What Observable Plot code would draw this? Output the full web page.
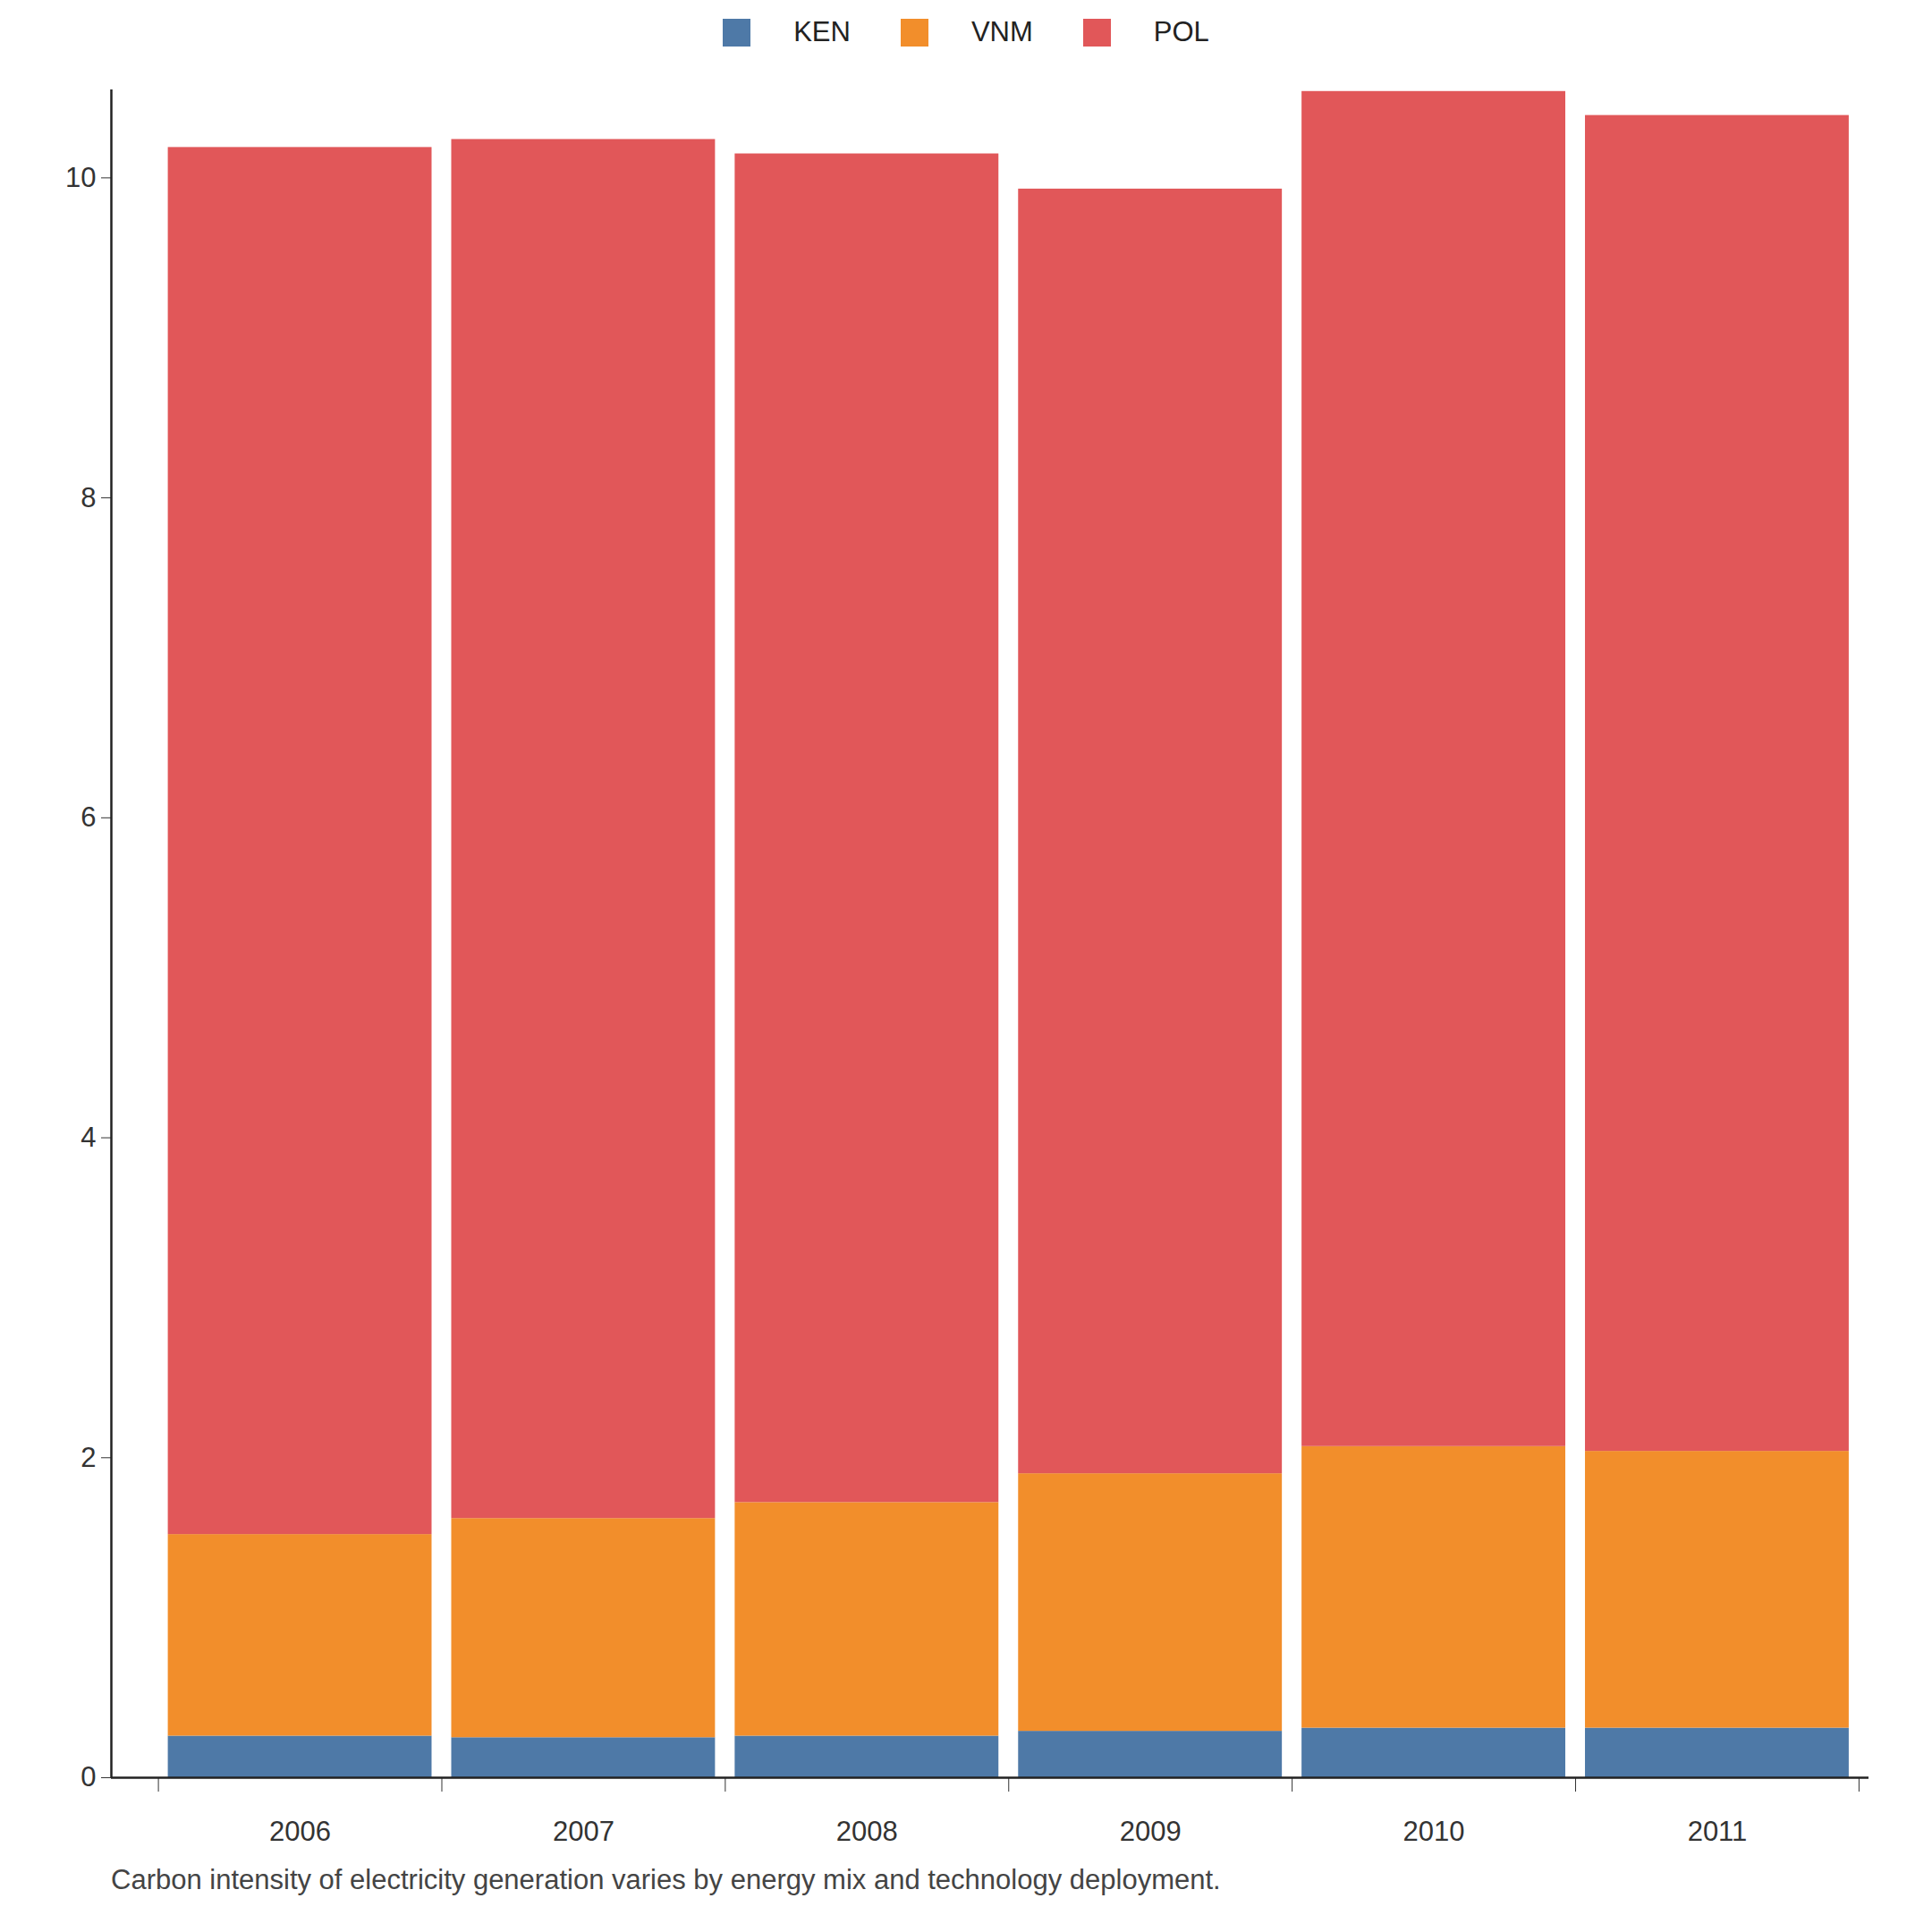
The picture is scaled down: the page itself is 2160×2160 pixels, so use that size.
<!DOCTYPE html>
<html><head>
<script src="https://cdn.jsdelivr.net/npm/d3@7"></script>
<script src="https://cdn.jsdelivr.net/npm/@observablehq/plot@0.6"></script>
<style>
body{margin:0;background:#fff;font-family:"Liberation Sans",Arial,sans-serif;}
#legend{height:72px;display:flex;justify-content:center;align-items:center;gap:0;font-size:31px;color:#222;}
.item{display:flex;align-items:center;margin:0 28px;}
.sw{width:31px;height:31px;margin-right:48px;}
#cap{font-size:31px;color:#444;margin-left:124px;margin-top:2px;}
</style></head><body>
<div id="legend"></div>
<div id="chart"></div>
<div id="cap">Carbon intensity of electricity generation varies by energy mix and technology deployment.</div>
<script>
const years = [2006, 2007, 2008, 2009, 2010, 2011];
const series = ["KEN", "VNM", "POL"];
const colors = ["#4e79a7", "#f28e2b", "#e15759"];
const KEN = [0.26, 0.25, 0.26, 0.29, 0.31, 0.31];
const VNM = [1.26, 1.37, 1.46, 1.61, 1.76, 1.73];
const POL = [8.67, 8.62, 8.43, 8.03, 8.47, 8.35];
const yTicks = [0, 2, 4, 6, 8, 10];
const edges = [2005.5, 2006.5, 2007.5, 2008.5, 2009.5, 2010.5, 2011.5];

const vals = {KEN, VNM, POL};
const data = [];
years.forEach((yr, i) => series.forEach(s => data.push({year: yr, s, v: vals[s][i]})));

const leg = document.getElementById("legend");
series.forEach((s, i) => {
  leg.innerHTML += `<div class="item"><div class="sw" style="background:${colors[i]}"></div>${s}</div>`;
});

const xmin = 2005.334, xmax = 2011.535;
const chart = Plot.plot({
  width: 2160, height: 2010,
  marginLeft: 124, marginRight: 71, marginTop: 28, marginBottom: 95,
  style: {fontSize: "31px", fontFamily: "Liberation Sans, Arial, sans-serif", color: "#333"},
  x: {domain: [xmin, xmax]},
  y: {domain: [0, 10.55]},
  color: {domain: series, range: colors},
  marks: [
    Plot.rectY(data, Plot.stackY({x1: d => d.year - 0.5, x2: d => d.year + 0.5, y: "v", fill: "s", order: series, insetLeft: 11, insetRight: 11})),
    Plot.axisY({ticks: yTicks, tickSize: 11, tickPadding: 6, label: null, fontSize: 31}),
    Plot.axisX({ticks: edges, tickFormat: () => "", tickSize: 16, label: null}),
    Plot.axisX({ticks: years, tickFormat: d => String(d), tickSize: 0, tickPadding: 48, label: null, fontSize: 31}),
    Plot.ruleX([xmin], {y1: 0, y2: 10.55, stroke: "#222", strokeWidth: 2.5}),
    Plot.ruleY([0], {stroke: "#222", strokeWidth: 2.5})
  ]
});
document.getElementById("chart").appendChild(chart);
</script>
</body></html>
